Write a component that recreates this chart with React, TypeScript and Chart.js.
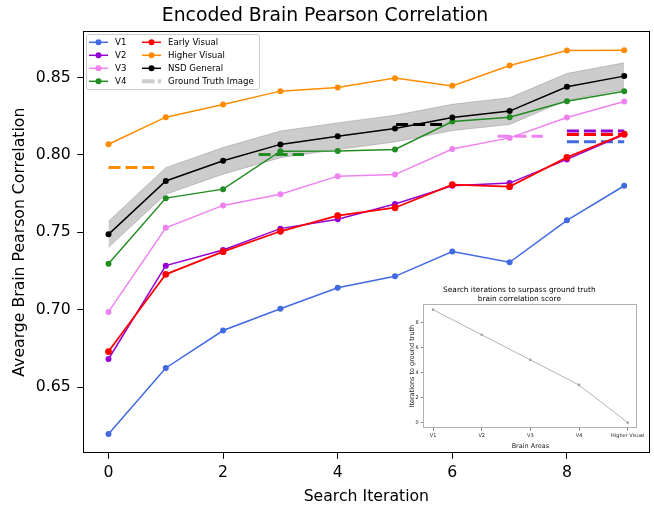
import React, { useEffect, useRef } from "react";
import { Chart, registerables } from "chart.js";
Chart.register(...registerables);

const FONT = "'DejaVu Sans', sans-serif";

// ---- Main chart data ----
const iterations = [0, 1, 2, 3, 4, 5, 6, 7, 8, 9];
const v1 = [0.6197, 0.6624, 0.6866, 0.7007, 0.7142, 0.7216, 0.7376, 0.7307, 0.7578, 0.7801];
const v2 = [0.6682, 0.7285, 0.7386, 0.7524, 0.7584, 0.7683, 0.7801, 0.7818, 0.7971, 0.8132];
const v3 = [0.6986, 0.7529, 0.7674, 0.7746, 0.7863, 0.7873, 0.8038, 0.811, 0.8242, 0.8345];
const v4 = [0.7297, 0.7721, 0.7779, 0.8024, 0.8025, 0.8035, 0.8216, 0.8244, 0.8347, 0.8412];
const earlyVisual = [0.673, 0.7229, 0.7375, 0.7507, 0.7608, 0.7659, 0.7808, 0.7795, 0.7984, 0.8134];
const higherVisual = [0.8069, 0.8244, 0.8326, 0.8412, 0.8435, 0.8496, 0.8446, 0.8577, 0.8674, 0.8676];
const nsdGeneral = [0.7487, 0.7832, 0.7962, 0.8068, 0.8121, 0.817, 0.8242, 0.8283, 0.844, 0.8509];
const nsdStd = [0.0084, 0.0086, 0.0086, 0.0086, 0.0086, 0.0086, 0.0085, 0.0086, 0.0086, 0.0086];

// Ground truth image correlations (dashed segments)
const gtNames = ["Higher Visual", "V4", "NSD General", "V3", "V2", "Early Visual", "V1"];
const gtValues = [0.7919, 0.8003, 0.8196, 0.8121, 0.8155, 0.8132, 0.8085];
const gtStart = [0, 2.62, 5.02, 6.79, 8.0, 8.0, 8.0];
const gtEnd = [0.8, 3.41, 5.82, 7.58, 9.0, 9.0, 9.0];

const xTicks = [0, 2, 4, 6, 8];
const yTicks = [0.65, 0.7, 0.75, 0.8, 0.85];

// ---- Inset data ----
const insetAreas = ["V1", "V2", "V3", "V4", "Higher Visual"];
const insetIterations = [9, 7, 5, 3, 0];
const insetYTicks = [0, 2, 4, 6, 8];

const COLORS: Record<string, string> = {
  V1: "#4169e1",
  V2: "#9400d3",
  V3: "#ee82ee",
  V4: "#228b22",
  "Early Visual": "#ff0000",
  "Higher Visual": "#ff8c00",
  "NSD General": "#000000",
};

const legendCol1 = ["V1", "V2", "V3", "V4"];
const legendCol2 = ["Early Visual", "Higher Visual", "NSD General", "Ground Truth Image"];

function series(label: string, values: number[], width = 1.5, radius = 3) {
  return {
    label,
    data: iterations.map((x, i) => ({ x, y: values[i] })),
    borderColor: COLORS[label],
    backgroundColor: COLORS[label],
    borderWidth: width,
    pointRadius: radius,
    pointBorderWidth: 0,
    pointHoverRadius: radius,
    tension: 0,
    fill: false,
  };
}

const mainFrame = {
  id: "mainFrame",
  afterDatasetsDraw(chart: any) {
    const { ctx, chartArea } = chart;
    ctx.save();
    ctx.strokeStyle = "#000";
    ctx.lineWidth = 1;
    const l = Math.round(chartArea.left) + 0.5;
    const t = Math.round(chartArea.top) + 0.5;
    const r = Math.round(chartArea.right) - 0.5;
    const b = Math.round(chartArea.bottom) - 0.5;
    ctx.strokeRect(l, t, r - l, b - t);

    // legend
    const bx = 86.5, by = 34.5, bw = 173, bh = 55, rad = 2.5;
    ctx.beginPath();
    ctx.moveTo(bx + rad, by);
    ctx.lineTo(bx + bw - rad, by);
    ctx.quadraticCurveTo(bx + bw, by, bx + bw, by + rad);
    ctx.lineTo(bx + bw, by + bh - rad);
    ctx.quadraticCurveTo(bx + bw, by + bh, bx + bw - rad, by + bh);
    ctx.lineTo(bx + rad, by + bh);
    ctx.quadraticCurveTo(bx, by + bh, bx, by + bh - rad);
    ctx.lineTo(bx, by + rad);
    ctx.quadraticCurveTo(bx, by, bx + rad, by);
    ctx.closePath();
    ctx.fillStyle = "rgba(255,255,255,0.8)";
    ctx.fill();
    ctx.strokeStyle = "#cccccc";
    ctx.stroke();

    ctx.font = `8.6px ${FONT}`;
    ctx.textBaseline = "middle";
    ctx.textAlign = "left";
    const drawEntry = (label: string, x0: number, y: number) => {
      const x1 = x0 + 19;
      if (label === "Ground Truth Image") {
        ctx.save();
        ctx.strokeStyle = "rgba(128,128,128,0.4)";
        ctx.lineWidth = 4;
        ctx.setLineDash([12.7, 3.3]);
        ctx.beginPath();
        ctx.moveTo(x0, y);
        ctx.lineTo(x1, y);
        ctx.stroke();
        ctx.restore();
      } else {
        const c = COLORS[label];
        ctx.strokeStyle = c;
        ctx.lineWidth = 1.5;
        ctx.beginPath();
        ctx.moveTo(x0, y);
        ctx.lineTo(x1, y);
        ctx.stroke();
        ctx.fillStyle = c;
        ctx.beginPath();
        ctx.arc((x0 + x1) / 2, y, 3, 0, Math.PI * 2);
        ctx.fill();
      }
      ctx.fillStyle = "#000";
      ctx.fillText(label, x0 + 26, y);
    };
    legendCol1.forEach((lab, i) => drawEntry(lab, 89, 42.3 + i * 13));
    legendCol2.forEach((lab, i) => drawEntry(lab, 142, 42.3 + i * 13));
    ctx.restore();
  },
};

const insetFrame = {
  id: "insetFrame",
  afterDatasetsDraw(chart: any) {
    const { ctx, chartArea } = chart;
    ctx.save();
    ctx.strokeStyle = "#b0b0b0";
    ctx.lineWidth = 1;
    const l = Math.round(chartArea.left) + 0.5;
    const t = Math.round(chartArea.top) + 0.5;
    const r = Math.round(chartArea.right) - 0.5;
    const b = Math.round(chartArea.bottom) - 0.5;
    ctx.strokeRect(l, t, r - l, b - t);
    ctx.restore();
  },
};

function MainChart() {
  const ref = useRef<HTMLCanvasElement>(null);
  useEffect(() => {
    if (!ref.current) return;
    const gtDatasets = gtNames.map((name, i) => ({
      label: "GT " + name,
      data: [
        { x: gtStart[i], y: gtValues[i] },
        { x: gtEnd[i], y: gtValues[i] },
      ],
      borderColor: COLORS[name],
      backgroundColor: COLORS[name],
      borderWidth: 3,
      borderDash: [12, 5],
      pointRadius: 0,
      pointHoverRadius: 0,
      fill: false,
    }));
    const upper = nsdGeneral.map((m, i) => ({ x: iterations[i], y: m + nsdStd[i] }));
    const lower = nsdGeneral.map((m, i) => ({ x: iterations[i], y: m - nsdStd[i] }));
    const chart = new Chart(ref.current, {
      type: "line",
      data: {
        datasets: [
          series("NSD General", nsdGeneral, 1.5, 3),
          series("Higher Visual", higherVisual),
          series("Early Visual", earlyVisual, 1.8, 3.4),
          series("V4", v4),
          series("V3", v3),
          series("V2", v2),
          series("V1", v1),
          ...gtDatasets,
          {
            label: "band upper",
            data: upper,
            borderColor: "rgba(128,128,128,0.4)",
            borderWidth: 1,
            pointRadius: 0,
            pointHoverRadius: 0,
            fill: false,
          },
          {
            label: "band lower",
            data: lower,
            borderColor: "rgba(128,128,128,0.4)",
            backgroundColor: "rgba(128,128,128,0.4)",
            borderWidth: 1,
            pointRadius: 0,
            pointHoverRadius: 0,
            fill: "-1",
          },
        ] as any,
      },
      options: {
        responsive: false,
        animation: false,
        devicePixelRatio: 1,
        events: [],
        layout: { padding: { left: 0, right: 4, top: 0, bottom: 0 } },
        plugins: {
          legend: { display: false },
          tooltip: { enabled: false },
          title: {
            display: true,
            text: "Encoded Brain Pearson Correlation",
            color: "#000",
            font: { family: FONT, size: 18.8, weight: "normal" as any },
            padding: { top: 4.5, bottom: 4 },
          },
        },
        scales: {
          x: {
            type: "linear",
            min: -0.45,
            max: 9.45,
            afterBuildTicks: (s: any) => {
              s.ticks = xTicks.map((v) => ({ value: v }));
            },
            afterFit: (s: any) => {
              s.height = 52.7;
            },
            ticks: {
              color: "#000",
              font: { family: FONT, size: 15.7 },
              padding: 5,
              maxRotation: 0,
              autoSkip: false,
              callback: (v: any) => String(v),
            },
            grid: {
              display: true,
              drawOnChartArea: false,
              drawTicks: true,
              tickLength: 5.5,
              color: "#000",
              lineWidth: 1,
            },
            border: { display: false },
            title: {
              display: true,
              text: "Search Iteration",
              color: "#000",
              font: { family: FONT, size: 15.7 },
              padding: { top: 4.4, bottom: 0 },
            },
          },
          y: {
            type: "linear",
            min: 0.6073,
            max: 0.88,
            afterBuildTicks: (s: any) => {
              s.ticks = yTicks.map((v) => ({ value: v }));
            },
            afterFit: (s: any) => {
              s.width = 82.7;
            },
            ticks: {
              color: "#000",
              font: { family: FONT, size: 15.7 },
              padding: 6.5,
              autoSkip: false,
              callback: (v: any) => Number(v).toFixed(2),
            },
            grid: {
              display: true,
              drawOnChartArea: false,
              drawTicks: true,
              tickLength: 5.5,
              color: "#000",
              lineWidth: 1,
            },
            border: { display: false },
            title: {
              display: true,
              text: "Avearge Brain Pearson Correlation",
              color: "#000",
              font: { family: FONT, size: 15.7 },
              padding: { top: 11, bottom: 0 },
            },
          },
        },
      } as any,
      plugins: [mainFrame],
    });
    return () => chart.destroy();
  }, []);
  return (
    <canvas
      ref={ref}
      width={654}
      height={506}
      style={{ position: "absolute", left: 0, top: 0, width: 654, height: 506 }}
    />
  );
}

function InsetChart() {
  const ref = useRef<HTMLCanvasElement>(null);
  useEffect(() => {
    if (!ref.current) return;
    const chart = new Chart(ref.current, {
      type: "line",
      data: {
        datasets: [
          {
            label: "Iterations",
            data: insetAreas.map((_, i) => ({ x: i, y: insetIterations[i] })),
            borderColor: "#b4b4b4",
            backgroundColor: "#a8a8a8",
            borderWidth: 1,
            pointRadius: 1.4,
            pointBorderWidth: 0,
            tension: 0,
            fill: false,
          },
        ],
      },
      options: {
        responsive: false,
        animation: false,
        devicePixelRatio: 1,
        events: [],
        layout: { padding: { left: 0, right: 5.3, top: 0, bottom: 0 } },
        plugins: {
          legend: { display: false },
          tooltip: { enabled: false },
          title: {
            display: true,
            text: ["Search iterations to surpass ground truth", "brain correlation score"],
            color: "#000",
            font: { family: FONT, size: 7.4, weight: "normal" as any, lineHeight: 1.22 },
            padding: { top: 4, bottom: 0 },
          },
        },
        scales: {
          x: {
            type: "linear",
            min: -0.2,
            max: 4.2,
            afterBuildTicks: (s: any) => {
              s.ticks = insetAreas.map((_, i) => ({ value: i }));
            },
            afterFit: (s: any) => {
              s.height = 21.7;
            },
            ticks: {
              color: "#222",
              font: { family: FONT, size: 5 },
              padding: 1.5,
              maxRotation: 0,
              autoSkip: false,
              callback: (v: any) => insetAreas[Number(v)] ?? "",
            },
            grid: {
              display: true,
              drawOnChartArea: false,
              drawTicks: true,
              tickLength: 2.5,
              color: "#666",
              lineWidth: 0.8,
            },
            border: { display: false },
            title: {
              display: true,
              text: "Brain Areas",
              color: "#222",
              font: { family: FONT, size: 6.5 },
              padding: { top: 3.5, bottom: 0 },
            },
          },
          y: {
            type: "linear",
            min: -0.45,
            max: 9.45,
            afterBuildTicks: (s: any) => {
              s.ticks = insetYTicks.map((v) => ({ value: v }));
            },
            afterFit: (s: any) => {
              s.width = 25.3;
            },
            ticks: {
              color: "#222",
              font: { family: FONT, size: 5 },
              padding: 2,
              autoSkip: false,
              callback: (v: any) => String(v),
            },
            grid: {
              display: true,
              drawOnChartArea: false,
              drawTicks: true,
              tickLength: 2.5,
              color: "#666",
              lineWidth: 0.8,
            },
            border: { display: false },
            title: {
              display: true,
              text: "Iterations to ground truth",
              color: "#222",
              font: { family: FONT, size: 6.5 },
              padding: { top: 10.8, bottom: 0 },
            },
          },
        },
      } as any,
      plugins: [insetFrame],
    });
    return () => chart.destroy();
  }, []);
  return (
    <canvas
      ref={ref}
      width={248}
      height={168}
      style={{ position: "absolute", left: 398, top: 282, width: 248, height: 168 }}
    />
  );
}

export default function App() {
  return (
    <div
      style={{
        position: "fixed",
        left: 0,
        top: 0,
        width: 654,
        height: 506,
        background: "#fff",
        overflow: "hidden",
      }}
    >
      <MainChart />
      <InsetChart />
    </div>
  );
}
